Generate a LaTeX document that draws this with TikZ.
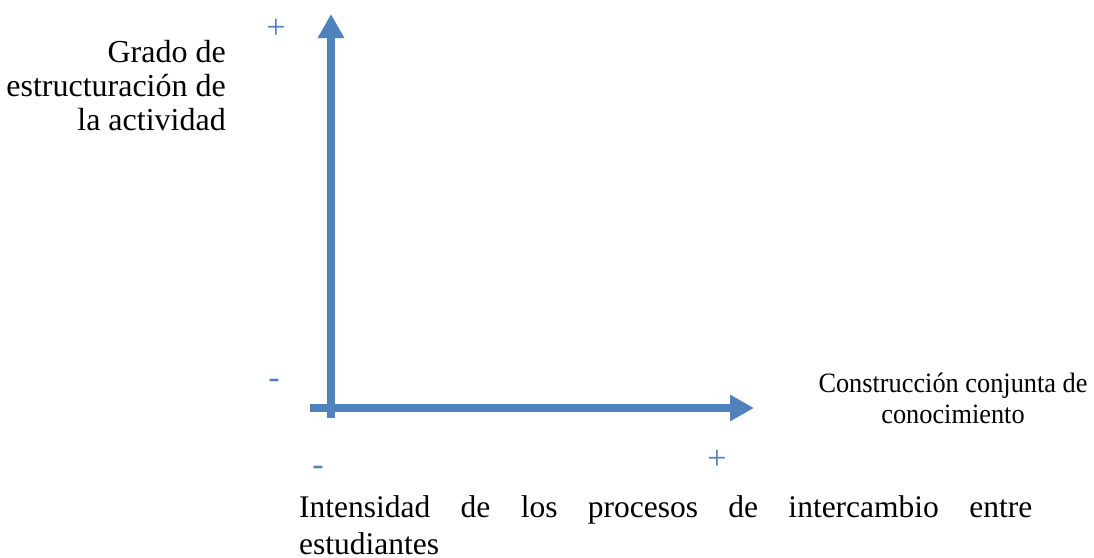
\documentclass[tikz,border=0pt]{standalone}
\usepackage{fontspec}
\setmainfont{Liberation Serif}
\newfontfamily\media[FakeStretch=0.94]{Liberation Serif}
\usetikzlibrary{arrows.meta}
\definecolor{ejeazul}{HTML}{4F81BD}

\begin{document}
\begin{tikzpicture}[x=1pt,y=-1pt,
        eje/.style={draw=ejeazul,line width=8pt,-{Triangle[length=24pt,width=25pt]}},
        signo/.style={text=ejeazul,inner sep=0pt,font=\fontsize{34}{34}\selectfont},
        etiq/.style={inner sep=0pt,font=\fontsize{32}{34}\selectfont},
        % etiq/.style={inner sep=0pt},
        chica/.style={inner sep=0pt,font=\media\fontsize{28}{31}\selectfont},
        abajo/.style={inner sep=0pt,font=\fontsize{31.5}{37}\selectfont},
        ]
    \useasboundingbox (0,0) rectangle (1094,557);

    % ejes
    \coordinate (ybase) at (331,418);
    \coordinate (ytope) at (331,14);
    \coordinate (xbase) at (310,408);
    \coordinate (xtope) at (754,408);
    \draw [eje] (ybase) -- (ytope);
    \draw [eje] (xbase) -- (xtope);

    % signos
    \node (mas1) [signo] at (276,29) {+};
    \node (menos1) [signo] at (274,384) {-};
    \node (menos2) [signo] at (318,471) {-};
    \node (mas2) [signo] at (717,460) {+};

    % etiquetas (base = ultima linea)
    \node (grado) [etiq,align=right,anchor=base east] at (226,130)
        {Grado de\\estructuración de\\la actividad};
    \node (constr) [chica,align=center,anchor=base] at (953,423)
        {Construcción conjunta de\\conocimiento};
    \node (inten) [abajo,align=left,anchor=base west] at (299,554)
        {\makebox[733pt][s]{Intensidad de los procesos de intercambio entre}\\estudiantes};
\end{tikzpicture}
\end{document}
